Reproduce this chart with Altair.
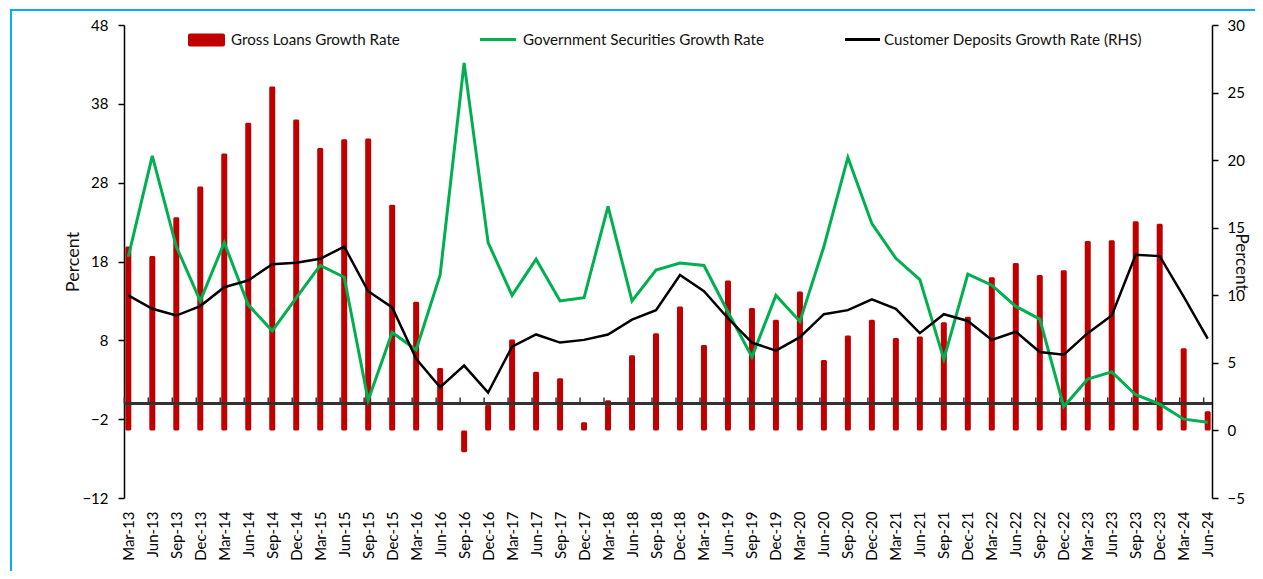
import altair as alt
import pandas as pd

CATEGORIES = [
    "Mar-13", "Jun-13", "Sep-13", "Dec-13", "Mar-14", "Jun-14", "Sep-14", "Dec-14",
    "Mar-15", "Jun-15", "Sep-15", "Dec-15", "Mar-16", "Jun-16", "Sep-16", "Dec-16",
    "Mar-17", "Jun-17", "Sep-17", "Dec-17", "Mar-18", "Jun-18", "Sep-18", "Dec-18",
    "Mar-19", "Jun-19", "Sep-19", "Dec-19", "Mar-20", "Jun-20", "Sep-20", "Dec-20",
    "Mar-21", "Jun-21", "Sep-21", "Dec-21", "Mar-22", "Jun-22", "Sep-22", "Dec-22",
    "Mar-23", "Jun-23", "Sep-23", "Dec-23", "Mar-24", "Jun-24",
]
GROSS_LOANS = [
    19.9, 18.7, 23.6, 27.5, 31.7, 35.6, 40.2, 36.0, 32.4, 33.5, 33.6, 25.2,
    12.9, 4.5, -6.2, -0.2, 8.1, 4.0, 3.2, -2.4, 0.4, 6.1, 8.9, 12.3,
    7.4, 15.6, 12.1, 10.6, 14.2, 5.5, 8.6, 10.6, 8.3, 8.5, 10.3, 11.0,
    16.0, 17.8, 16.3, 16.9, 20.6, 20.7, 23.1, 22.8, 7.0, -1.0,
]
GOV_SECURITIES = [
    18.6, 31.4, 19.9, 13.0, 20.4, 12.5, 9.2, 13.4, 17.5, 16.0, 0.4, 9.0,
    6.8, 16.3, 43.2, 20.4, 13.7, 18.3, 13.0, 13.4, 25.0, 13.0, 16.9, 17.8,
    17.5, 11.6, 5.9, 13.7, 10.4, 19.9, 31.2, 22.8, 18.4, 15.7, 5.6, 16.4,
    15.0, 12.3, 10.7, -0.4, 3.1, 4.0, 1.1, -0.1, -2.0, -2.4,
]
CUSTOMER_DEPOSITS = [
    10.0, 9.0, 8.5, 9.2, 10.6, 11.1, 12.3, 12.4, 12.7, 13.6, 10.3, 9.1,
    5.3, 3.2, 4.8, 2.8, 6.2, 7.1, 6.5, 6.7, 7.1, 8.2, 8.9, 11.5,
    10.3, 8.3, 6.5, 5.9, 6.9, 8.6, 8.9, 9.7, 9.0, 7.2, 8.6, 8.1,
    6.7, 7.3, 5.8, 5.6, 7.2, 8.5, 13.0, 12.9, 9.9, 6.8,
]
SERIES = [
    "Gross Loans Growth Rate",
    "Government Securities Growth Rate",
    "Customer Deposits Growth Rate (RHS)",
]
LEFT_DOMAIN = [-12, 48]
RIGHT_DOMAIN = [-5, 30]
LEFT_TICKS = [-12, -2, 8, 18, 28, 38, 48]
RIGHT_TICKS = [-5, 0, 5, 10, 15, 20, 25, 30]
AXIS_TITLE = "Percent"

# bars rise from the right-hand axis zero, expressed in left-axis units
BAR_BASE = LEFT_DOMAIN[0] + (0 - RIGHT_DOMAIN[0]) * (LEFT_DOMAIN[1] - LEFT_DOMAIN[0]) / (RIGHT_DOMAIN[1] - RIGHT_DOMAIN[0])

W, H = 1088, 473
FONT = "Lato"
RED, GREEN, BLACK = "#C00000", "#00B050", "#000000"

df = pd.DataFrame({
    "cat": CATEGORIES,
    "gross": GROSS_LOANS,
    "gov": GOV_SECURITIES,
    "dep": CUSTOMER_DEPOSITS,
})

X = alt.X(
    "cat:O", sort=CATEGORIES, title=None,
    scale=alt.Scale(type="point", padding=0.18),
    axis=alt.Axis(labelAngle=-90, domain=False, ticks=False, tickSize=0,
                  labelPadding=13, labelFontSize=15, labelFont=FONT,
                  labelColor="#000"),
)

left_scale = alt.Scale(domain=LEFT_DOMAIN, nice=False, zero=False)
LEFT_AXIS = alt.Axis(values=LEFT_TICKS, title=AXIS_TITLE, orient="left",
                     tickSize=6, labelPadding=10, titleAngle=-90,
                     titleBaseline="alphabetic", titleX=-46, titleY=H / 2,
                     titleAlign="center")

base = alt.Chart(df)

frame = alt.Chart(pd.DataFrame({"k": [0]})).mark_rect(
    fill=None, stroke="#00B0F0", strokeWidth=2
).encode(x=alt.value(-113), x2=alt.value(W + 200), y=alt.value(-15), y2=alt.value(H + 200))

bars = base.mark_bar(color=RED, size=6, cornerRadius=1.5).encode(
    x=X,
    y=alt.Y("gross:Q", scale=left_scale, axis=LEFT_AXIS),
    y2=alt.datum(BAR_BASE),
)

zero_line = base.mark_rule(color="#333333", strokeWidth=2).encode(
    x=alt.value(0), x2=alt.value(W), y=alt.datum(0)
)
zero_ticks = base.mark_rule(color="#333333", strokeWidth=1.5, xOffset=-4, y2Offset=-6).encode(
    x=X, y=alt.datum(0), y2=alt.datum(0)
)

gov_line = base.mark_line(color=GREEN, strokeWidth=3).encode(
    x=X, y=alt.Y("gov:Q", scale=left_scale, axis=LEFT_AXIS)
)

# legend
leg_rect = alt.Chart(pd.DataFrame({"t": [SERIES[0]]})).mark_rect(
    color=RED, cornerRadius=2
).encode(x=alt.value(64), x2=alt.value(101), y=alt.value(8.5), y2=alt.value(21.5))
leg_green = alt.Chart(pd.DataFrame({"t": [SERIES[1]]})).mark_rule(
    color=GREEN, strokeWidth=3
).encode(x=alt.value(356), x2=alt.value(392), y=alt.value(14.5))
leg_black = alt.Chart(pd.DataFrame({"t": [SERIES[2]]})).mark_rule(
    color=BLACK, strokeWidth=3
).encode(x=alt.value(721), x2=alt.value(756), y=alt.value(14.5))


def leg_text(i, xpos):
    return alt.Chart(pd.DataFrame({"t": [SERIES[i]]})).mark_text(
        align="left", baseline="alphabetic", font=FONT, fontSize=15.2, color="#111"
    ).encode(x=alt.value(xpos), y=alt.value(20), text="t:N")


left_group = alt.layer(
    frame, bars, zero_line, zero_ticks, gov_line,
    leg_rect, leg_green, leg_black,
    leg_text(0, 107), leg_text(1, 399), leg_text(2, 760),
)

dep_line = base.mark_line(color=BLACK, strokeWidth=2.5).encode(
    x=X,
    y=alt.Y("dep:Q", scale=alt.Scale(domain=RIGHT_DOMAIN, nice=False, zero=False),
            axis=alt.Axis(values=RIGHT_TICKS, title=AXIS_TITLE, orient="right",
                          tickSize=6, labelPadding=9, titleAngle=90,
                          titleBaseline="alphabetic", titleX=23, titleY=H / 2,
                          titleAlign="center", titleFontSize=17)),
)

chart = alt.layer(left_group, dep_line).resolve_scale(y="independent").properties(
    width=W, height=H,
    padding={"left": 116, "top": 17, "right": 43, "bottom": 73},
    autosize=alt.AutoSizeParams(type="none"),
).configure_view(stroke=None).configure_axis(
    grid=False, domainColor="#000", tickColor="#000", domainWidth=1.5, tickWidth=1.5,
    labelFont=FONT, labelFontSize=15, labelColor="#000",
    titleFont=FONT, titleFontSize=18, titleFontWeight="normal", titleColor="#111",
)

chart.save("out.html", embed_options={"renderer": "svg", "actions": False})
